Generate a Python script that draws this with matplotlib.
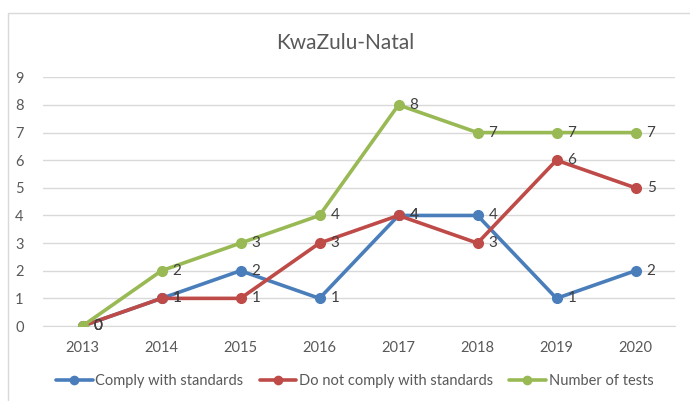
import matplotlib.pyplot as plt
from matplotlib.patches import Rectangle

# === data ===
years = ['2013', '2014', '2015', '2016', '2017', '2018', '2019', '2020']
comply = [0, 1, 2, 1, 4, 4, 1, 2]
not_comply = [0, 1, 1, 3, 4, 3, 6, 5]
num_tests = [0, 2, 3, 4, 8, 7, 7, 7]
y_ticks = list(range(0, 10))

plt.rcParams['font.family'] = ['Lato', 'DejaVu Sans']
TXT = '#595959'

fig = plt.figure(figsize=(6.9, 4.01), dpi=100)
fig.patches.append(Rectangle((8 / 690, -0.1), 1.2, 1 - 13 / 401 + 0.1,
                             transform=fig.transFigure, fill=False,
                             edgecolor='#d9d9d9', lw=1.0))

ax = fig.add_axes([43 / 690, 1 - 326 / 401, (675 - 43) / 690, (326 - 77.3) / 401])
x = list(range(len(years)))

series = [
    (comply, '#4a7ebb', 'Comply with standards'),
    (not_comply, '#be4b48', 'Do not comply with standards'),
    (num_tests, '#98b954', 'Number of tests'),
]
for vals, col, name in series:
    ax.plot(x, vals, color=col, lw=2.6, marker='o', ms=7, label=name,
            solid_capstyle='round', zorder=3)
    for xi, v in zip(x, vals):
        ax.annotate(str(v), (xi, v), xytext=(8, 0), textcoords='offset points',
                    ha='left', va='center', fontsize=11, color='#404040', zorder=4)

ax.set_xlim(-0.5, len(years) - 0.5)
ax.set_ylim(0, 9)
ax.set_yticks(y_ticks)
ax.set_xticks(x)
ax.set_xticklabels(years)
ax.grid(axis='y', color='#d9d9d9', lw=1)
ax.set_axisbelow(True)
for s in ['top', 'right', 'left']:
    ax.spines[s].set_visible(False)
ax.spines['bottom'].set_color('#d9d9d9')
ax.tick_params(length=0, labelsize=10.5, labelcolor=TXT)
ax.tick_params(axis='x', pad=11)
ax.tick_params(axis='y', pad=14)

fig.text(0.5, 1 - 43 / 401, 'KwaZulu-Natal', ha='center', va='center',
         fontsize=15, color=TXT)

fig.legend(loc='center', bbox_to_anchor=(0.514, 1 - 381 / 401), ncol=3,
           frameon=False, fontsize=10.5, labelcolor=TXT, handlelength=2.5,
           handletextpad=0.2, columnspacing=1.1, markerscale=0.85)

fig.savefig('out.png', dpi=100)
